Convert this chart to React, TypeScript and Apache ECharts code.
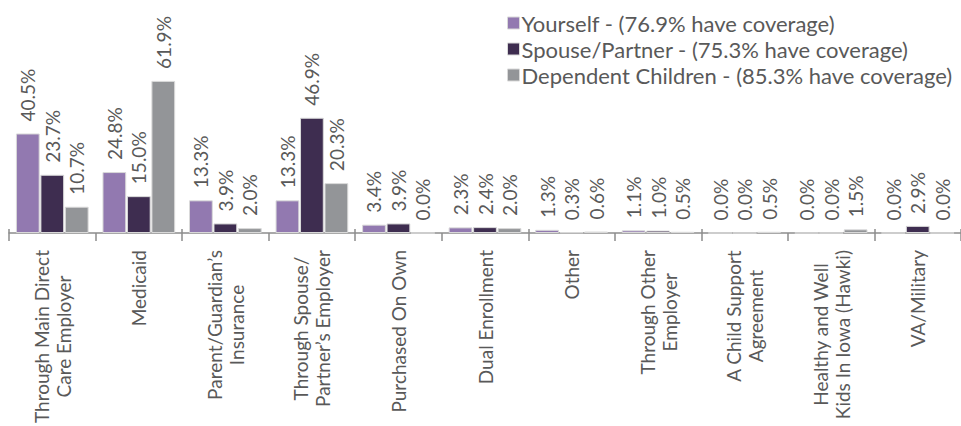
import React, { useEffect, useRef } from "react";
import * as echarts from "echarts";

const categories = [
  "Through Main Direct\nCare Employer",
  "Medicaid",
  "Parent/Guardian’s\nInsurance",
  "Through Spouse/\nPartner’s Employer",
  "Purchased On Own",
  "Dual Enrollment",
  "Other",
  "Through Other\nEmployer",
  "A Child Support\nAgreement",
  "Healthy and Well\nKids In Iowa (Hawki)",
  "VA/Military",
];

const seriesNames = [
  "Yourself - (76.9% have coverage)",
  "Spouse/Partner - (75.3% have coverage)",
  "Dependent Children - (85.3% have coverage)",
];

const yourself = [40.5, 24.8, 13.3, 13.3, 3.4, 2.3, 1.3, 1.1, 0.0, 0.0, 0.0];
const spouse = [23.7, 15.0, 3.9, 46.9, 3.9, 2.4, 0.3, 1.0, 0.0, 0.0, 2.9];
const children = [10.7, 61.9, 2.0, 20.3, 0.0, 2.0, 0.6, 0.5, 0.5, 1.5, 0.0];

const colors = ["#9279B0", "#3E2D50", "#939598"];

const FONT = "Lato, 'Noto Sans', sans-serif";
const TEXT = "#595959";
const WEIGHT = 400;

export default function App() {
  const ref = useRef<HTMLDivElement>(null);
  useEffect(() => {
    if (!ref.current) return;
    const chart = echarts.init(ref.current, undefined, { renderer: "svg" });
    const data = [yourself, spouse, children];
    chart.setOption({
      animation: false,
      textStyle: { fontFamily: FONT },
      legend: {
        orient: "vertical",
        left: 502,
        top: 7,
        itemWidth: 12,
        itemHeight: 12,
        itemGap: 4,
        icon: "rect",
        textStyle: {
          fontSize: 22,
          color: TEXT,
          fontFamily: FONT,
          fontWeight: WEIGHT,
          padding: [0, 0, 0, -3],
        },
        data: seriesNames.map((n, i) => ({
          name: n,
          itemStyle: { color: colors[i], borderColor: "#D9D9D9", borderWidth: 1 },
        })),
      },
      grid: { left: 9, right: 0, top: 61, bottom: 190, containLabel: false },
      xAxis: [
        {
          type: "category",
          data: categories,
          position: "bottom",
          axisLine: { show: true, lineStyle: { color: "#8C8C8C", width: 1.5 } },
          axisTick: { show: true, length: 8, lineStyle: { color: "#8C8C8C", width: 1.5 } },
          axisLabel: {
            interval: 0,
            rotate: 90,
            margin: 17,
            formatter: (v: string) =>
              v
                .split("\n")
                .map((l) => `{c|${l}}`)
                .join("\n"),
            rich: {
              c: {
                align: "center",
                fontSize: 19,
                lineHeight: 22,
                color: TEXT,
                fontFamily: FONT,
                fontWeight: WEIGHT,
              },
            },
          },
        },
        {
          type: "category",
          data: categories,
          position: "bottom",
          axisLine: { show: false },
          axisTick: { show: true, inside: true, length: 4, lineStyle: { color: "#8C8C8C", width: 1.5 } },
          axisLabel: { show: false },
        },
      ],
      yAxis: {
        type: "value",
        min: 0,
        max: 70,
        show: false,
        splitLine: { show: false },
      },
      series: seriesNames.map((name, i) => ({
        name,
        type: "bar",
        xAxisIndex: 0,
        data: data[i],
        barGap: "3%",
        barCategoryGap: "16%",
        itemStyle: { color: colors[i], borderColor: "#D9D9D9", borderWidth: 1 },
        label: {
          show: true,
          position: "top",
          rotate: 90,
          align: "left",
          verticalAlign: "middle",
          distance: 12,
          fontSize: 19,
          color: TEXT,
          fontFamily: FONT,
          fontWeight: WEIGHT,
          formatter: (p: any) => `${Number(p.value).toFixed(1)}%`,
        },
      })),
    });
    return () => chart.dispose();
  }, []);
  return (
    <div
      ref={ref}
      style={{ position: "fixed", left: 0, top: 0, width: 961, height: 426, background: "#fff" }}
    />
  );
}
